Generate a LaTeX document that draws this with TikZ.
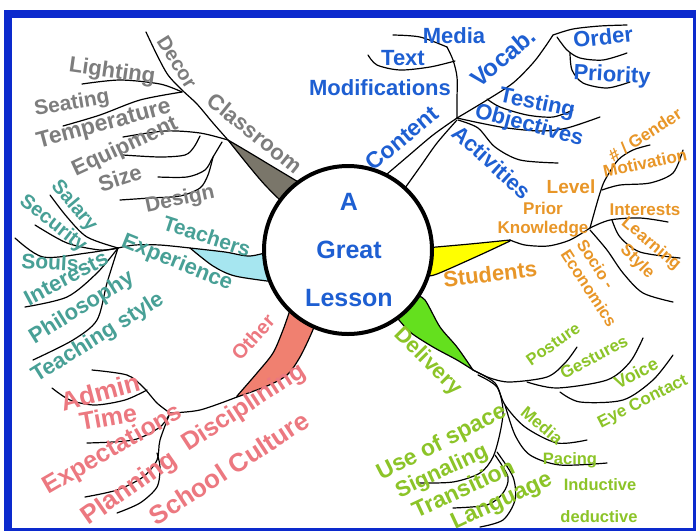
\documentclass[tikz,border=0pt]{standalone}
\usepackage{fontspec}
\setmainfont{Liberation Sans}
\newcommand{\fsz}[1]{\fontsize{#1}{#1}\selectfont}
\definecolor{frameblue}{RGB}{12,42,205}
\definecolor{graytxt}{RGB}{125,125,125}
\definecolor{clsfill}{RGB}{122,118,106}
\definecolor{tealtxt}{RGB}{72,160,150}
\definecolor{cyanfill}{RGB}{166,230,240}
\definecolor{redtxt}{RGB}{236,120,128}
\definecolor{salmonfill}{RGB}{240,128,112}
\definecolor{bluetxt}{RGB}{30,95,210}
\definecolor{orangetxt}{RGB}{232,150,40}
\definecolor{yellowfill}{RGB}{255,255,0}
\definecolor{greentxt}{RGB}{140,196,40}
\definecolor{greenfill}{RGB}{100,224,30}
\begin{document}
\begin{tikzpicture}[x=1pt,y=-1pt,
  gtx/.style={inner sep=0pt,text=graytxt,font=\bfseries\fsz{#1}},
  ttx/.style={inner sep=0pt,text=tealtxt,font=\bfseries\fsz{#1}},
  rtx/.style={inner sep=0pt,text=redtxt,font=\bfseries\fsz{#1}},
  btx/.style={inner sep=0pt,text=bluetxt,font=\bfseries\fsz{#1}},
  otx/.style={inner sep=0pt,text=orangetxt,font=\bfseries\fsz{#1}},
  vtx/.style={inner sep=0pt,text=greentxt,font=\bfseries\fsz{#1}},
  branch/.style={line width=1.2pt,black,line cap=round},
  wedgebox/.style={line width=1.2pt,draw=black,line join=round}]
\useasboundingbox (0,0) rectangle (696,531);
% frame
\fill[frameblue] (4,10) rectangle (696,531);
\fill[white] (12,18) rectangle (693,528);

% ---------- wedges ----------
\filldraw[wedgebox,fill=clsfill] plot[smooth] coordinates {(305,186) (270,165) (245,150) (228,140)}
  -- plot[smooth] coordinates {(228,140) (248,165) (265,185) (285,205)} -- cycle;
\filldraw[wedgebox,fill=cyanfill] plot[smooth] coordinates {(275,250) (250,256) (225,252) (190,248)}
  -- plot[smooth] coordinates {(190,248) (213,266) (235,276) (275,282)} -- cycle;
\filldraw[wedgebox,fill=salmonfill] plot[smooth] coordinates {(290,310) (283,330) (273,353) (257,373) (237,396)}
  -- plot[smooth] coordinates {(237,397) (267,386) (287,375) (300,357) (312,332) (318,315)} -- cycle;
\filldraw[wedgebox,fill=yellowfill] plot[smooth] coordinates {(425,248) (470,244) (510,240)}
  -- plot[smooth] coordinates {(510,241) (480,255) (437,274) (425,276)} -- cycle;
\filldraw[wedgebox,fill=greenfill] plot[smooth] coordinates {(395,315) (410,332) (433,347) (457,360) (473,370)}
  -- plot[smooth] coordinates {(473,370) (457,347) (440,327) (425,300) (415,295)} -- cycle;

% ---------- Classroom lines ----------
\draw[branch] plot[smooth] coordinates {(228,140) (213,123) (197,104) (182,90) (168,75) (157,55) (146,32)};
\draw[branch] plot[smooth] coordinates {(82,84) (120,80) (160,84) (182,92)};
\draw[branch] plot[smooth] coordinates {(63,126) (100,115) (140,100) (182,92)};
\draw[branch] plot[smooth] coordinates {(123,137) (165,131) (200,133) (228,140)};
\draw[branch] plot[smooth] coordinates {(200,136) (194,147) (185,155) (160,157) (123,155)};
\draw[branch] plot[smooth] coordinates {(222,142) (213,157) (205,170) (187,177) (158,177)};
\draw[branch] plot[smooth] coordinates {(213,157) (208,175) (200,188) (180,196) (150,198) (120,200)};

% ---------- Teachers lines ----------
\draw[branch] plot[smooth] coordinates {(190,248) (160,245) (135,245) (118,248)};
\draw[branch] plot[smooth] coordinates {(50,195) (67,217) (87,237) (118,248)};
\draw[branch] plot[smooth] coordinates {(35,225) (67,243) (100,250) (118,248)};
\draw[branch] plot[smooth] coordinates {(15,238) (43,257) (87,253) (118,248)};
\draw[branch] plot[smooth] coordinates {(25,307) (67,297) (97,273) (118,248)};
\draw[branch] plot[smooth] coordinates {(33,360) (73,340) (97,320) (107,283) (118,248)};

% ---------- Other lines ----------
\draw[branch] plot[smooth] coordinates {(237,397) (200,410) (170,413)};
\draw[branch] plot[smooth] coordinates {(92,370) (127,375) (143,387) (157,403) (170,413)};
\draw[branch] plot[smooth] coordinates {(52,388) (70,400) (95,405) (125,400) (147,390)};
\draw[branch] plot[smooth] coordinates {(87,443) (133,440) (160,427) (170,413)};
\draw[branch] plot[smooth] coordinates {(85,497) (117,490) (143,477) (157,460) (160,440) (170,413)};
\draw[branch] plot[smooth] coordinates {(117,513) (140,503) (157,487) (160,467) (157,453)};

% ---------- Content lines ----------
\draw[branch] plot[smooth] coordinates {(380,180) (407,157) (433,135) (457,118)};
\draw[branch] plot[smooth] coordinates {(400,195) (420,167) (437,143) (457,120)};
\draw[branch] plot[smooth] coordinates {(457,118) (457,100) (457,77) (453,60) (447,47)};
\draw[branch] plot[smooth] coordinates {(393,35) (420,37) (447,47)};
\draw[branch] plot[smooth] coordinates {(368,55) (377,65) (400,70) (430,67) (455,61)};
\draw[branch] plot[smooth] coordinates {(457,118) (487,100) (513,83) (533,63) (545,47) (553,35)};
\draw[branch] plot[smooth] coordinates {(553,35) (573,29) (600,26) (627,25)};
\draw[branch] plot[smooth] coordinates {(557,37) (567,50) (580,58) (603,60) (627,53)};
\draw[branch] plot[smooth] coordinates {(570,53) (572,70) (583,83) (607,88) (630,82)};
\draw[branch] plot[smooth] coordinates {(487,99) (500,107) (527,115) (553,117) (573,110)};
\draw[branch] plot[smooth] coordinates {(457,118) (480,123) (507,128) (540,131) (567,128) (600,117)};
\draw[branch] plot[smooth] coordinates {(458,120) (478,128) (495,147) (520,160) (558,163)};

% ---------- Students lines ----------
\draw[branch] plot[smooth] coordinates {(510,240) (525,245) (548,246) (570,240) (590,228)};
\draw[branch] plot[smooth] coordinates {(590,228) (595,210) (600,193) (605,180) (618,160) (633,150) (650,145)};
\draw[branch] plot[smooth] coordinates {(602,190) (620,185) (650,183) (673,173) (683,150)};
\draw[branch] plot[smooth] coordinates {(590,228) (610,220) (640,218) (668,222)};
\draw[branch] plot[smooth] coordinates {(612,220) (620,237) (640,252) (680,258)};
\draw[branch] plot[smooth] coordinates {(590,230) (607,250) (623,273) (643,293) (673,302)};

% ---------- Delivery lines ----------
\draw[branch] plot[smooth] coordinates {(473,370) (490,378) (510,382) (547,377) (565,363) (577,347)};
\draw[branch] plot[smooth] coordinates {(527,382) (557,388) (607,380) (630,362) (643,338)};
\draw[branch] plot[smooth] coordinates {(560,392) (580,402) (623,400) (653,380) (673,355)};
\draw[branch] plot[smooth] coordinates {(473,370) (495,383) (505,405) (525,427) (557,443) (587,440)};
\draw[branch] plot[smooth] coordinates {(505,405) (515,435) (530,455) (560,465) (607,463)};
\draw[branch] plot[smooth] coordinates {(478,375) (497,387) (503,410) (500,433) (493,457) (480,473) (453,482) (417,483)};
\draw[branch] plot[smooth] coordinates {(495,455) (508,477) (503,493) (487,505) (453,508)};
\draw[branch] plot[smooth] coordinates {(497,452) (513,477) (515,500) (503,520) (480,527)};

% ---------- centre ----------
\filldraw[fill=white,draw=black,line width=4pt] (348,250) circle (84);
\node[align=center,text=bluetxt,font=\bfseries\fontsize{25}{48}\selectfont] (centre) at (349,250) {A\\Great\\Lesson};

% ---------- Classroom texts ----------
\node[gtx=20, rotate=-58] (decor) at (177,62) {Decor};
\node[gtx=22, rotate=-39] (classroom) at (255,133) {Classroom};
\node[gtx=22, rotate=-8] (lighting) at (112,72) {Lighting};
\node[gtx=21, rotate=10] (seating) at (72,104) {Seating};
\node[gtx=23, rotate=15] (temperature) at (104,125) {Temperature};
\node[gtx=22, rotate=25] (equipment) at (125,147) {Equipment};
\node[gtx=22, rotate=18] (size) at (120,178) {Size};
\node[gtx=21, rotate=12] (design) at (180,200) {Design};

% ---------- Teachers texts ----------
\node[ttx=21, rotate=-18] (teachers) at (207,236) {Teachers};
\node[ttx=22, rotate=-22] (experience) at (177,263) {Experience};
\node[ttx=20, rotate=-50] (salary) at (74,206) {Salary};
\node[ttx=20, rotate=-38] (security) at (53,224) {Security};
\node[ttx=21, rotate=-3] (souls) at (50,262) {Souls};
\node[ttx=22, rotate=28] (interests) at (66,278) {Interests};
\node[ttx=22, rotate=32] (philosophy) at (82,308) {Philosophy};
\node[ttx=22, rotate=32] (teaching) at (98,338) {Teaching style};

% ---------- Other texts ----------
\node[rtx=20, rotate=48] (other) at (253,337) {Other};
\node[rtx=26, rotate=15] (admin) at (100,392) {Admin};
\node[rtx=25, rotate=10] (time) at (108,417) {Time};
\node[rtx=25, rotate=30] (expect) at (113,450) {Expectations};
\node[rtx=25, rotate=33] (discipl) at (244,408) {Disciplining};
\node[rtx=26, rotate=35] (planning) at (130,489) {Planning};
\node[rtx=26, rotate=33] (school) at (229,468) {School Culture};

% ---------- Content texts ----------
\node[btx=22] (mediaA) at (454,36) {Media};
\node[btx=22] (text) at (403,58) {Text};
\node[btx=22] (modif) at (380,88) {Modifications};
\node[btx=24, rotate=40] (vocab) at (503,57) {Vocab.};
\node[btx=22, rotate=6] (order) at (603,37) {Order};
\node[btx=22, rotate=-3] (priority) at (612,76) {Priority};
\node[btx=23, rotate=40] (content) at (402,138) {Content};
\node[btx=22, rotate=-12] (testing) at (537,104) {Testing};
\node[btx=22, rotate=-15] (objectives) at (529,126) {Objectives};
\node[btx=22, rotate=-42] (activities) at (492,162) {Activities};

% ---------- Students texts ----------
\node[otx=22, rotate=7] (students) at (490,274) {Students};
\node[otx=19] (level) at (571,187) {Level};
\node[inner sep=0pt,text=orangetxt,font=\bfseries\fontsize{17}{19}\selectfont,align=center] (prior) at (543,220) {Prior\\Knowledge};
\node[otx=17, rotate=33] (gender) at (645,135) {\# / Gender};
\node[otx=17, rotate=12] (motivation) at (645,163) {Motivation};
\node[otx=17] (interestsB) at (645,210) {Interests};
\node[otx=17, rotate=-40] (learning) at (651,244) {Learning};
\node[otx=17, rotate=-45] (style) at (637,262) {Style};
\node[inner sep=0pt,text=orangetxt,font=\bfseries\fontsize{16.5}{19}\selectfont,align=left,rotate=-57] (socio) at (597,283) {Socio -\\Economics};

% ---------- Delivery texts ----------
\node[vtx=22, rotate=-45] (delivery) at (428,362) {Delivery};
\node[vtx=16.5, rotate=35] (posture) at (553,344) {Posture};
\node[vtx=17, rotate=28] (gestures) at (594,357) {Gestures};
\node[vtx=18, rotate=28] (voice) at (636,373) {Voice};
\node[vtx=17, rotate=27] (eye) at (643,402) {Eye Contact};
\node[vtx=17, rotate=-40] (mediaB) at (542,425) {Media};
\node[vtx=16.5] (pacing) at (570,460) {Pacing};
\node[vtx=16.5] (inductive) at (600,485) {Inductive};
\node[vtx=16.5] (deductive) at (599,517) {deductive};
\node[vtx=23, rotate=27] (usespace) at (442,443) {Use of space};
\node[vtx=22, rotate=25] (signal) at (442,472) {Signaling};
\node[vtx=23, rotate=25] (transition) at (463,488) {Transition};
\node[vtx=23, rotate=25] (language) at (502,502) {Language};
\end{tikzpicture}
\end{document}
